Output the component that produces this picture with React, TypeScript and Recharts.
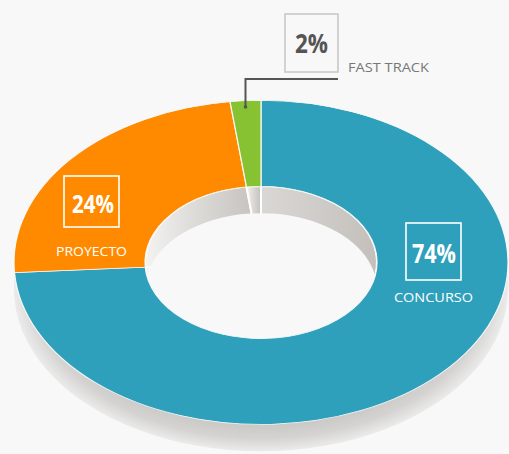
import React from "react";
import { PieChart, Pie, Cell } from "recharts";

// slices, clockwise from 12 o'clock
const SLICE_NAMES = ["CONCURSO", "PROYECTO", "FAST TRACK"];
const SLICE_VALUES = [74, 24, 2];
const SLICE_COLORS = ["#2fa0bb", "#ff8a00", "#86c232"];

// 3d base (single full disc)
const DISC = [{ name: "base", value: 1 }];
const WALL_OFFSETS = [10, 20, 30, 41];

// label boxes / text positions on screen
const LABELS = [
  { box: [406, 223, 55, 57], pct: [412, 263, 27, 44], name: [394, 302, 13, 79], color: "#ffffff", boxStroke: "#ffffff" },
  { box: [64, 176, 55, 51], pct: [72, 213, 25, 42], name: [56, 256, 13, 71], color: "#ffffff", boxStroke: "#ffffff" },
  { box: [285, 14, 53, 58], pct: [295, 53, 27, 33], name: [348, 72, 13, 81], color: "#555555", boxStroke: "#c9c9c9" },
];

const W = 509;
const H = 454;
const SCALE = 0.656;
const CX = 261;
const CY = 400;
const R = 247;
const RIN = 116;
const DEPTH = 41;
const BG = "#f8f8f8";

export default function App() {
  const data = SLICE_NAMES.map((name, i) => ({ name, value: SLICE_VALUES[i] }));

  return (
    <div
      style={{
        position: "absolute",
        left: 0,
        top: 0,
        width: W,
        height: H,
        overflow: "hidden",
        background: BG,
      }}
    >
      <div style={{ transform: `scaleY(${SCALE})`, transformOrigin: "0 0" }}>
        <PieChart width={W} height={700} margin={{ top: 0, right: 0, bottom: 0, left: 0 }}>
          <defs>
            <radialGradient id="outerWall" cx="50%" cy="50%" r="50%">
              <stop offset="0" stopColor="#c9c7c4" />
              <stop offset="0.82" stopColor="#c9c7c4" />
              <stop offset="0.92" stopColor="#d4d3d1" />
              <stop offset="1" stopColor="#ebebeb" />
            </radialGradient>
            <linearGradient id="innerWall" x1="0" y1="0" x2="1" y2="0">
              <stop offset="0" stopColor="#f3f3f2" />
              <stop offset="0.45" stopColor="#dcdad7" />
              <stop offset="1" stopColor="#c3c0bc" />
            </linearGradient>
          </defs>
          {WALL_OFFSETS.map((off) => (
            <Pie
              key={`wall-${off}`}
              data={DISC}
              dataKey="value"
              cx={CX}
              cy={CY + off}
              innerRadius={0}
              outerRadius={R}
              stroke="none"
              fill="url(#outerWall)"
              isAnimationActive={false}
            />
          ))}
          <Pie
            data={data}
            dataKey="value"
            cx={CX}
            cy={CY}
            innerRadius={0}
            outerRadius={RIN}
            startAngle={90}
            endAngle={-270}
            stroke="#ffffff"
            strokeWidth={2}
            fill="url(#innerWall)"
            isAnimationActive={false}
          />
          <Pie
            data={DISC}
            dataKey="value"
            cx={CX}
            cy={CY + DEPTH}
            innerRadius={0}
            outerRadius={RIN}
            stroke="none"
            fill={BG}
            isAnimationActive={false}
          />
          <Pie
            data={data}
            dataKey="value"
            cx={CX}
            cy={CY}
            innerRadius={RIN}
            outerRadius={R}
            startAngle={90}
            endAngle={-270}
            stroke={BG}
            strokeWidth={1.2}
            isAnimationActive={false}
          >
            {data.map((entry, index) => (
              <Cell key={`cell-${index}`} fill={SLICE_COLORS[index % SLICE_COLORS.length]} />
            ))}
          </Pie>
        </PieChart>
      </div>

      <svg
        width={W}
        height={H}
        style={{ position: "absolute", left: 0, top: 0, pointerEvents: "none" }}
      >
        {/* leader for the small slice */}
        <polyline
          points="338,79 245.5,79 245.5,107"
          fill="none"
          stroke="#555555"
          strokeWidth={2}
        />
        <circle cx={245.5} cy={107} r={1.8} fill="#555555" />
        {LABELS.map((l, i) => (
          <g key={`lbl-${i}`}>
            <rect
              x={l.box[0]}
              y={l.box[1]}
              width={l.box[2]}
              height={l.box[3]}
              fill="none"
              stroke={l.boxStroke}
              strokeWidth={1.6}
            />
            <text
              x={l.pct[0]}
              y={l.pct[1]}
              fontSize={l.pct[2]}
              textLength={l.pct[3]}
              lengthAdjust="spacingAndGlyphs"
              fontFamily="'Open Sans', sans-serif"
              fontWeight={700}
              fill={l.color}
            >
              {`${SLICE_VALUES[i]}%`}
            </text>
            <text
              x={l.name[0]}
              y={l.name[1]}
              fontSize={l.name[2]}
              textLength={l.name[3]}
              lengthAdjust="spacingAndGlyphs"
              fontFamily="'Open Sans', sans-serif"
              fill={i === 2 ? "#777777" : "#ffffff"}
            >
              {SLICE_NAMES[i]}
            </text>
          </g>
        ))}
      </svg>
    </div>
  );
}
